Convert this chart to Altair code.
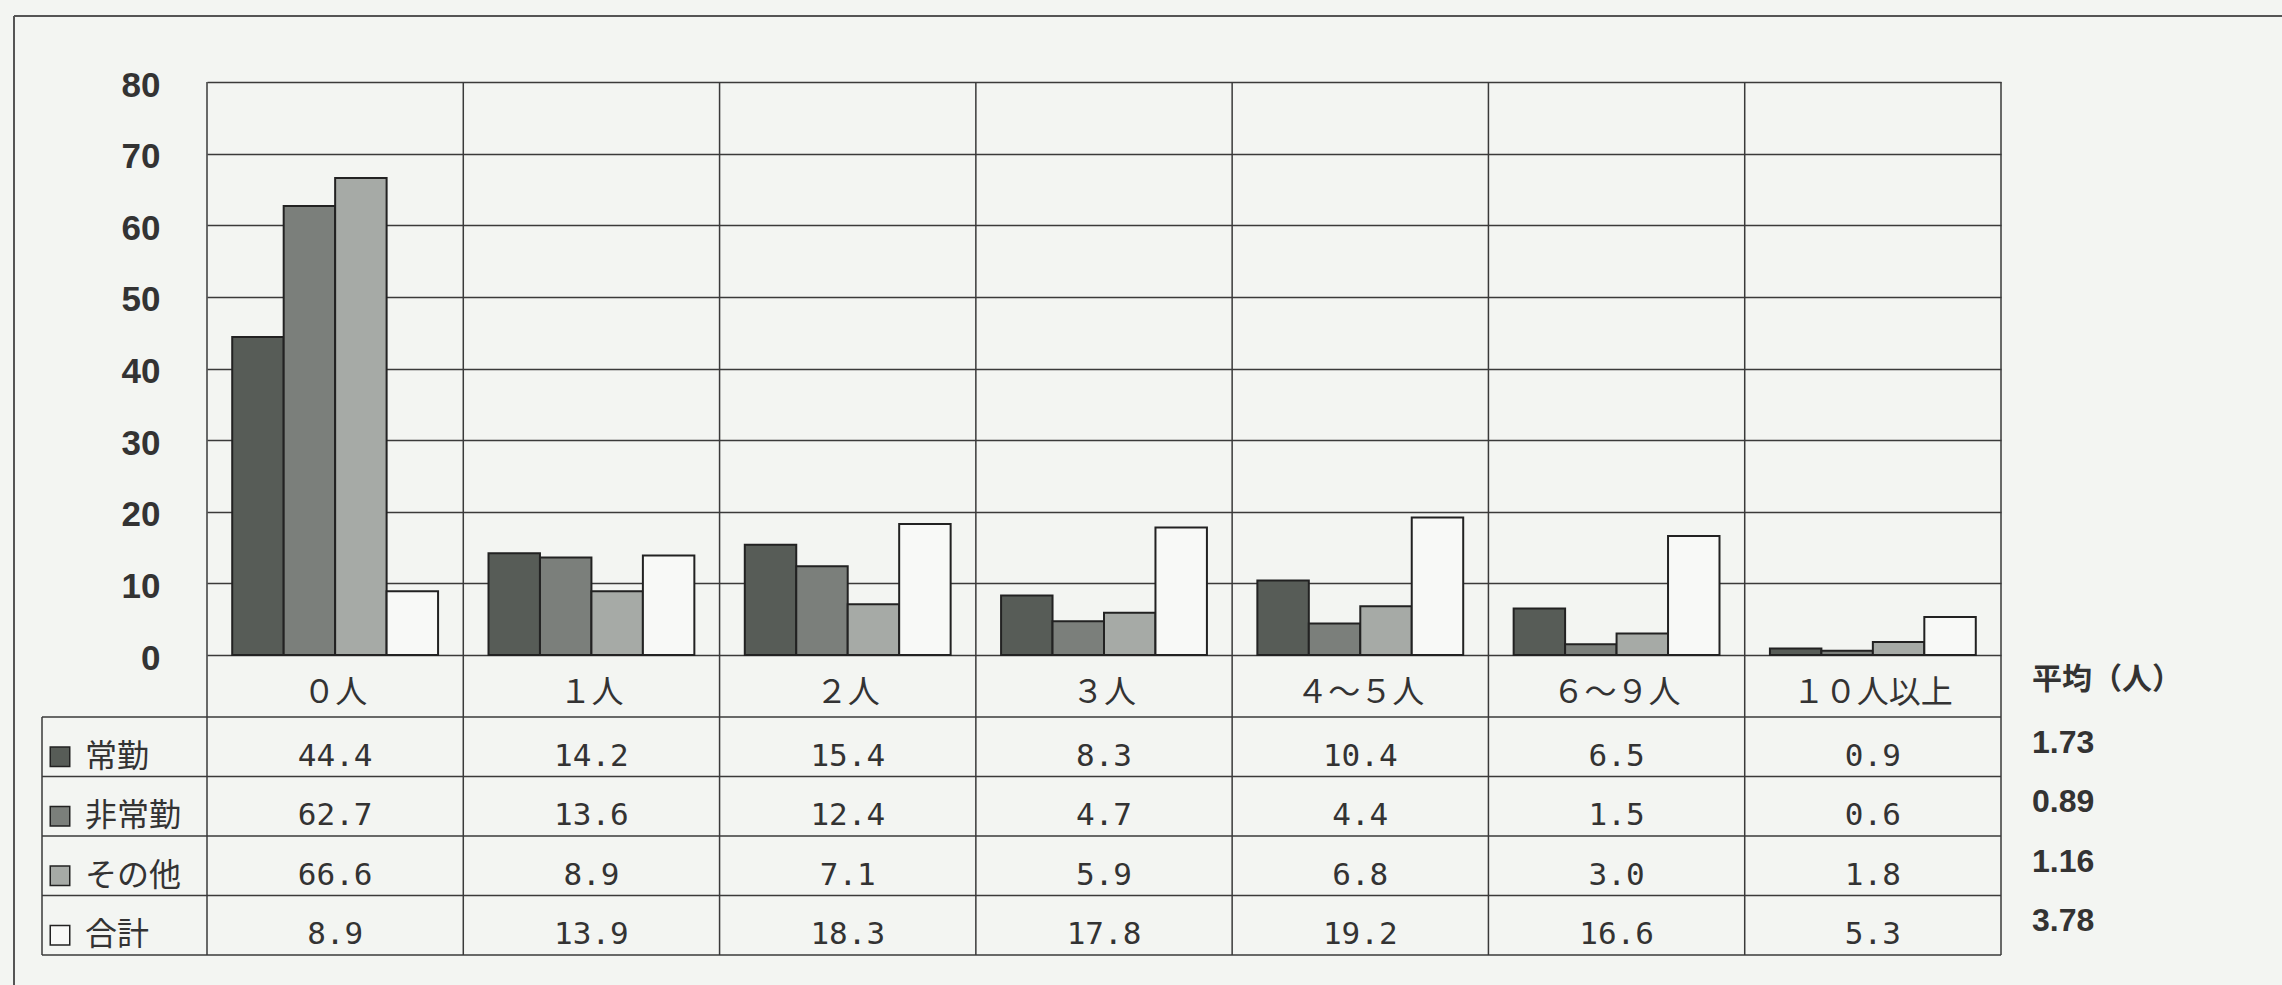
import altair as alt
import pandas as pd

# ---- data ----
categories = ["０人", "１人", "２人", "３人", "４～５人", "６～９人", "１０人以上"]
series = ["常勤", "非常勤", "その他", "合計"]
jokin = [44.4, 14.2, 15.4, 8.3, 10.4, 6.5, 0.9]
hijokin = [62.7, 13.6, 12.4, 4.7, 4.4, 1.5, 0.6]
sonota = [66.6, 8.9, 7.1, 5.9, 6.8, 3.0, 1.8]
gokei = [8.9, 13.9, 18.3, 17.8, 19.2, 16.6, 5.3]
averages = [1.73, 0.89, 1.16, 3.78]
avg_header = "平均（人）"
y_ticks = [0, 10, 20, 30, 40, 50, 60, 70, 80]

# ---- tables built from the arrays ----
values_by_series = [jokin, hijokin, sonota, gokei]
rows = []
for s, vals in zip(series, values_by_series):
    for c, v in zip(categories, vals):
        rows.append({"cat": c, "series": s, "value": v})
df = pd.DataFrame(rows)
df_series = pd.DataFrame({"series": series, "avg": averages})
df_cats = pd.DataFrame({"cat": categories})
df_one = pd.DataFrame({"t": [avg_header]})

# ---- styles / layout ----
W, H = 1794, 573
TABLE_TOP, TABLE_BOTTOM = 635, 873
fills = ["#575c57", "#7b7f7b", "#a6aaa6", "#f8f9f7"]
LINE = "#3a3a3a"
TXT = "#333333"
CJK = "Noto Sans CJK JP"
MONO = "DejaVu Sans Mono"
NUM = "Liberation Sans"

xscale = alt.Scale(type="band", domain=categories, paddingInner=0, paddingOuter=0)
fill_scale = alt.Scale(domain=series, range=fills)


def row_scale(shift=0):
    return alt.Scale(type="band", domain=series,
                     range=[TABLE_TOP + shift, TABLE_BOTTOM + shift],
                     paddingInner=0, paddingOuter=0)


bars = alt.Chart(df).mark_bar(stroke="#222222", strokeWidth=2).encode(
    x=alt.X("cat:N", scale=xscale, sort=None, axis=None),
    xOffset=alt.XOffset("series:N", sort=None,
                        scale=alt.Scale(domain=series, paddingInner=0, paddingOuter=0.49)),
    y=alt.Y("value:Q", scale=alt.Scale(domain=[0, 80], nice=False),
            axis=alt.Axis(values=y_ticks, title=None, grid=True, gridColor=LINE,
                          gridWidth=1.4, domain=False, ticks=False, labelFont=NUM,
                          labelFontSize=35, labelFontWeight="bold", labelColor=TXT,
                          labelPadding=47, labelOffset=3)),
    fill=alt.Fill("series:N", scale=fill_scale, legend=None),
)

# category labels under the plot
cat_labels = alt.Chart(df_cats).mark_text(font=CJK, fontSize=32, color=TXT,
                                          baseline="middle").encode(
    x=alt.X("cat:N", scale=xscale, axis=None),
    y=alt.value(611),
    text="cat:N",
)

# vertical column lines (band boundaries) running through the table
col_lines = alt.Chart(df_cats).mark_rule(color=LINE, strokeWidth=1.5).encode(
    x=alt.X("cat:N", scale=xscale, bandPosition=0, axis=None),
    y=alt.value(0), y2=alt.value(TABLE_BOTTOM),
)
right_edge = alt.Chart(df_one).mark_rule(color=LINE, strokeWidth=1.5).encode(
    x=alt.value(W), y=alt.value(0), y2=alt.value(TABLE_BOTTOM))
table_left = alt.Chart(df_one).mark_rule(color=LINE, strokeWidth=1.5).encode(
    x=alt.value(-165), y=alt.value(TABLE_TOP), y2=alt.value(TABLE_BOTTOM))
row_lines = alt.Chart(df_series).mark_rule(color=LINE, strokeWidth=1.5).encode(
    y=alt.Y("series:N", scale=row_scale(), bandPosition=0, axis=None),
    x=alt.value(-165), x2=alt.value(W))
table_bottom = alt.Chart(df_one).mark_rule(color=LINE, strokeWidth=1.5).encode(
    y=alt.value(TABLE_BOTTOM), x=alt.value(-165), x2=alt.value(W))

# table numbers
table_text = alt.Chart(df).mark_text(font=MONO, fontSize=31, color=TXT,
                                     baseline="middle", dy=10).encode(
    x=alt.X("cat:N", scale=xscale, axis=None),
    y=alt.Y("series:N", scale=row_scale(), axis=None),
    text=alt.Text("value:Q", format=".1f"),
)

# legend column inside table
legend_text = alt.Chart(df_series).mark_text(font=CJK, fontSize=32, color=TXT,
                                             align="left", baseline="middle", dy=10).encode(
    x=alt.value(-122),
    y=alt.Y("series:N", scale=row_scale(), axis=None),
    text="series:N",
)
swatches = alt.Chart(df_series).mark_square(size=380, stroke="#222222", strokeWidth=1.5,
                                            opacity=1, filled=True).encode(
    x=alt.value(-147),
    y=alt.Y("series:N", scale=row_scale(10), axis=None),
    fill=alt.Fill("series:N", scale=fill_scale, legend=None),
)

# averages column
avg_text = alt.Chart(df_series).mark_text(font=NUM, fontWeight="bold",
                                          fontSize=32, color=TXT, align="left",
                                          baseline="middle", dy=-4).encode(
    x=alt.value(1825),
    y=alt.Y("series:N", scale=row_scale(), axis=None),
    text=alt.Text("avg:Q", format=".2f"),
)
avg_head = alt.Chart(df_one).mark_text(font=CJK, fontWeight="bold", fontSize=30,
                                       color=TXT, align="left", baseline="middle").encode(
    x=alt.value(1825), y=alt.value(598), text="t:N")

# outer page frame
frame_top = alt.Chart(df_one).mark_rule(color="#555555", strokeWidth=2).encode(
    x=alt.value(-193), x2=alt.value(2075), y=alt.value(-66))
frame_left = alt.Chart(df_one).mark_rule(color="#555555", strokeWidth=2).encode(
    x=alt.value(-193), y=alt.value(-66), y2=alt.value(903))

chart = alt.layer(
    bars, cat_labels, col_lines, right_edge, table_left, row_lines, table_bottom,
    table_text, legend_text, swatches, avg_text, avg_head, frame_top, frame_left,
).resolve_scale(y="independent").properties(
    width=W, height=H,
    autosize=alt.AutoSizeParams(type="none"),
    padding={"left": 207, "top": 82, "right": 281, "bottom": 330},
    background="#f3f5f2",
).configure_view(stroke=None)

chart.save("out.html", embed_options={"renderer": "svg", "actions": False})
